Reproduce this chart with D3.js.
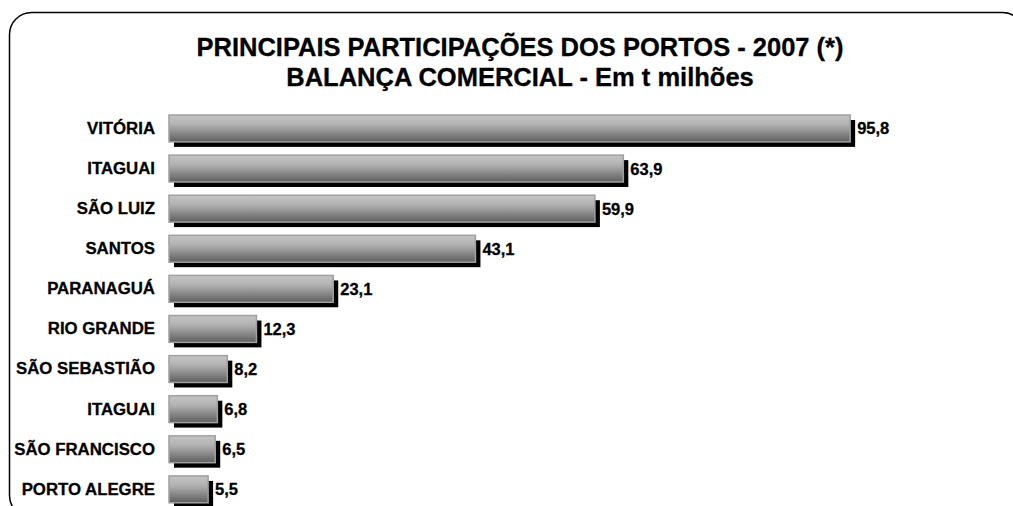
<!DOCTYPE html>
<html>
<head>
<meta charset="utf-8">
<script src="https://cdn.jsdelivr.net/npm/d3@7/dist/d3.min.js"></script>
<style>
  html, body { margin: 0; padding: 0; background: #fff; }
  svg { display: block; font-family: "Liberation Sans", Arial, sans-serif; }
</style>
</head>
<body>
<svg id="chart" width="1013" height="506"></svg>
<script>
// Ports ranked by tonnage (million t)
const ports = ["VITÓRIA", "ITAGUAI", "SÃO LUIZ", "SANTOS", "PARANAGUÁ", "RIO GRANDE",
               "SÃO SEBASTIÃO", "ITAGUAI", "SÃO FRANCISCO", "PORTO ALEGRE"];
const tonnage = [95.8, 63.9, 59.9, 43.1, 23.1, 12.3, 8.2, 6.8, 6.5, 5.5];
const titleLines = ["PRINCIPAIS PARTICIPAÇÕES DOS PORTOS - 2007 (*)",
                    "BALANÇA COMERCIAL - Em t milhões"];

const svg = d3.select("#chart");

// Frame with rounded corners
svg.append("rect")
  .attr("x", 9.5).attr("y", 12.5)
  .attr("width", 1015).attr("height", 505)
  .attr("rx", 22).attr("ry", 22)
  .attr("fill", "none").attr("stroke", "#000").attr("stroke-width", 1.5);

// Bar gradient
const defs = svg.append("defs");
const grad = defs.append("linearGradient")
  .attr("id", "barFill").attr("x1", 0).attr("y1", 0).attr("x2", 0).attr("y2", 1);
grad.append("stop").attr("offset", "0%").attr("stop-color", "#c4c4c4");
grad.append("stop").attr("offset", "35%").attr("stop-color", "#b2b2b2");
grad.append("stop").attr("offset", "100%").attr("stop-color", "#5e5e5e");

// Title
svg.append("g").selectAll("text").data(titleLines).join("text")
  .attr("x", 520)
  .attr("y", (d, i) => 56 + i * 30)
  .attr("text-anchor", "middle")
  .attr("font-weight", "bold")
  .attr("font-size", 25.5)
  .attr("fill", "#000")
  .attr("stroke", "#000").attr("stroke-width", 0.3)
  .text(d => d);

const idx = d3.range(ports.length);
const x = d3.scaleLinear().domain([0, 100]).range([169, 880]);
const y = d3.scaleBand().domain(idx).range([108.4, 509.4])
  .paddingInner(0.33).paddingOuter(0.165);

// Category axis
const yAxis = d3.axisLeft(y).tickSize(0).tickPadding(14).tickFormat(i => ports[i]);
const gAxis = svg.append("g").attr("transform", `translate(169,0)`).call(yAxis);
gAxis.select(".domain").remove();
gAxis.selectAll("text")
  .attr("font-family", "Liberation Sans, Arial, sans-serif")
  .attr("font-weight", "bold")
  .attr("font-size", 16.8)
  .attr("fill", "#000")
  .attr("stroke", "#000").attr("stroke-width", 0.3);

const bars = svg.append("g").selectAll("g").data(idx).join("g");

// Drop shadow
bars.append("rect")
  .attr("x", x(0) + 5)
  .attr("y", i => y(i) + 5)
  .attr("width", i => x(tonnage[i]) - x(0))
  .attr("height", y.bandwidth())
  .attr("fill", "#000");

// Bar
bars.append("rect")
  .attr("x", x(0))
  .attr("y", i => y(i))
  .attr("width", i => x(tonnage[i]) - x(0))
  .attr("height", y.bandwidth())
  .attr("fill", "url(#barFill)")
  .attr("stroke", "#a0a0a0")
  .attr("stroke-width", 1.5);

// Value labels
bars.append("text")
  .attr("x", i => x(tonnage[i]) + 7)
  .attr("y", i => y(i) + y.bandwidth() / 2 + 6)
  .attr("font-weight", "bold")
  .attr("font-size", 16.5)
  .attr("fill", "#000")
  .attr("stroke", "#000").attr("stroke-width", 0.3)
  .text(i => d3.format(".1f")(tonnage[i]).replace(".", ","));
</script>
</body>
</html>
